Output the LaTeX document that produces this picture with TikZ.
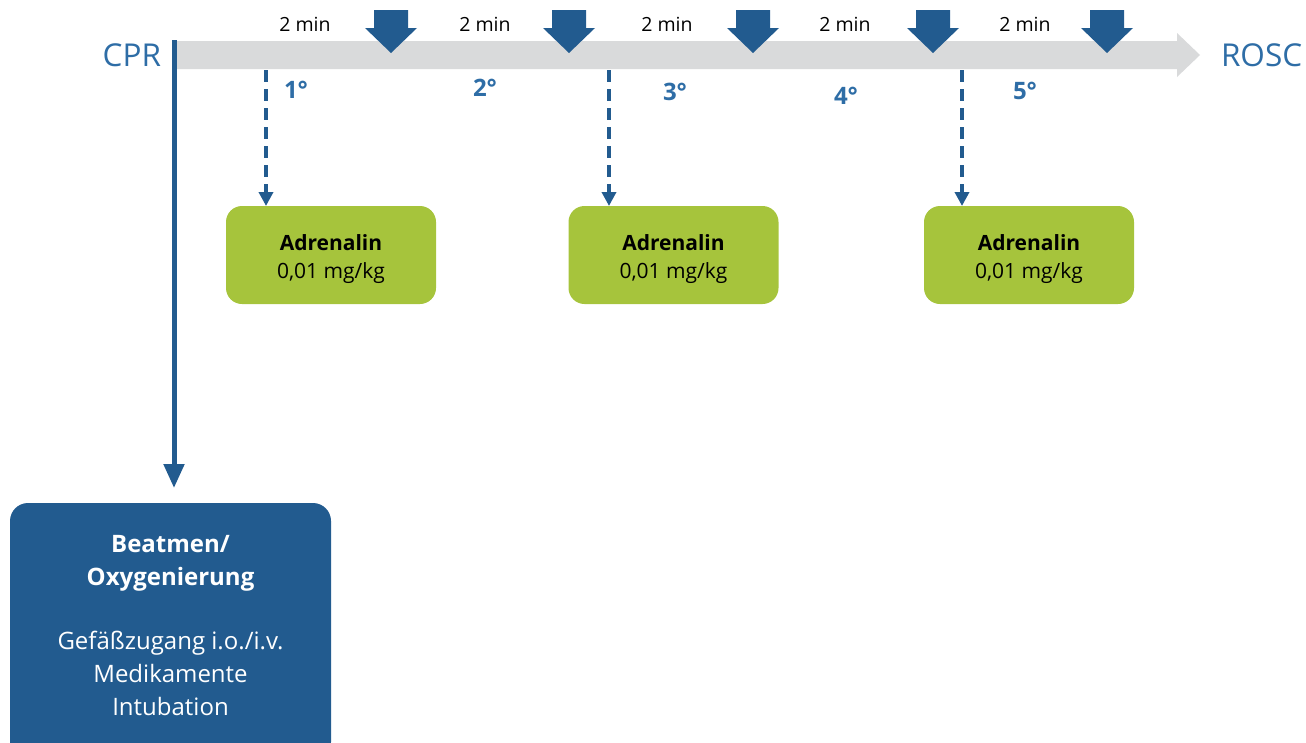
\documentclass[tikz,border=0pt]{standalone}
\usepackage{fontspec}
\setmainfont{Open Sans}
\usetikzlibrary{arrows.meta}
\definecolor{dblue}{HTML}{225B8F}
\definecolor{tblue}{HTML}{2E6DA6}
\definecolor{lgrey}{HTML}{D9DADB}
\definecolor{lgreen}{HTML}{A6C43C}
\tikzset{
  every node/.style={inner sep=0pt, outer sep=0pt},
  minlab/.style={font=\fontsize{19.5}{22}\selectfont, text=black},
  deglab/.style={font=\fontsize{24}{28}\selectfont\bfseries, text=tblue},
  endlab/.style={font=\fontsize{31.5}{36}\selectfont, text=tblue},
  greenbox/.style={fill=lgreen, rounded corners=16pt, minimum width=210pt, minimum height=98pt},
  greentext/.style={align=center, font=\fontsize{21}{28}\selectfont},
  dasharrow/.style={draw=dblue, line width=4.5pt, dash pattern=on 12pt off 7pt, -{Triangle[width=14pt,length=14pt]}},
  solidarrow/.style={draw=dblue, line width=5pt, -{Triangle[width=20pt,length=24pt]}},
  droparrow/.pic={\fill[dblue] (-17,10) -- (17,10) -- (17,28) -- (26,28) -- (0,53) -- (-26,28) -- (-17,28) -- cycle;}
}
\begin{document}
\begin{tikzpicture}[x=1pt,y=-1pt]
\useasboundingbox (0,0) rectangle (1306,742);
% grey timeline bar
\fill[lgrey] (175,41) -- (1177,41) -- (1177,33) -- (1200,55) -- (1177,77) -- (1177,69) -- (175,69) -- cycle;
% end labels
\node[endlab, anchor=east] (cpr) at (161,55) {CPR};
\node[endlab, anchor=west] (rosc) at (1221,55) {ROSC};
% drop arrows
\foreach \x in {391,569,753,933,1107} { \pic at (\x,0) {droparrow}; }
% 2 min labels
\node[minlab] (m1) at (305,24) {2 min};
\node[minlab] (m2) at (485,24) {2 min};
\node[minlab] (m3) at (667,24) {2 min};
\node[minlab] (m4) at (845,24) {2 min};
\node[minlab] (m5) at (1025,24) {2 min};
% degree labels
\node[deglab] (d1) at (296,90) {1°};
\node[deglab] (d2) at (485,88) {2°};
\node[deglab] (d3) at (675,92) {3°};
\node[deglab] (d4) at (846,96) {4°};
\node[deglab] (d5) at (1025,91) {5°};
% green boxes
\node[greenbox] (g1) at (331,255) {};
\node[greenbox] (g2) at (673.5,255) {};
\node[greenbox] (g3) at (1029,255) {};
\foreach \g in {g1,g2,g3} {
  \node[greentext] (\g-t) at ([yshift=-4pt]\g.center) {\textbf{Adrenalin}\\0,01 mg/kg};
}
% dashed arrows
\coordinate (s1) at (266,70);
\coordinate (s2) at (609,70);
\coordinate (s3) at (962,70);
\draw[dasharrow] (s1) -- (s1 |- g1.north);
\draw[dasharrow] (s2) -- (s2 |- g2.north);
\draw[dasharrow] (s3) -- (s3 |- g3.north);
% blue box
\fill[dblue, rounded corners=18pt] (10,503) rectangle (331,760);
\node[text=white, align=center, font=\fontsize{24}{33}\selectfont] (bb) at (170.5,626)
  {\textbf{Beatmen/}\\\textbf{Oxygenierung}\\[31pt]Gefäßzugang i.o./i.v.\\Medikamente\\Intubation};
\coordinate (bbtop) at (174,503);
% main vertical arrow
\coordinate (cprtop) at (174,40);
\draw[solidarrow, shorten >=15pt] (cprtop) -- (bbtop);
\end{tikzpicture}
\end{document}
